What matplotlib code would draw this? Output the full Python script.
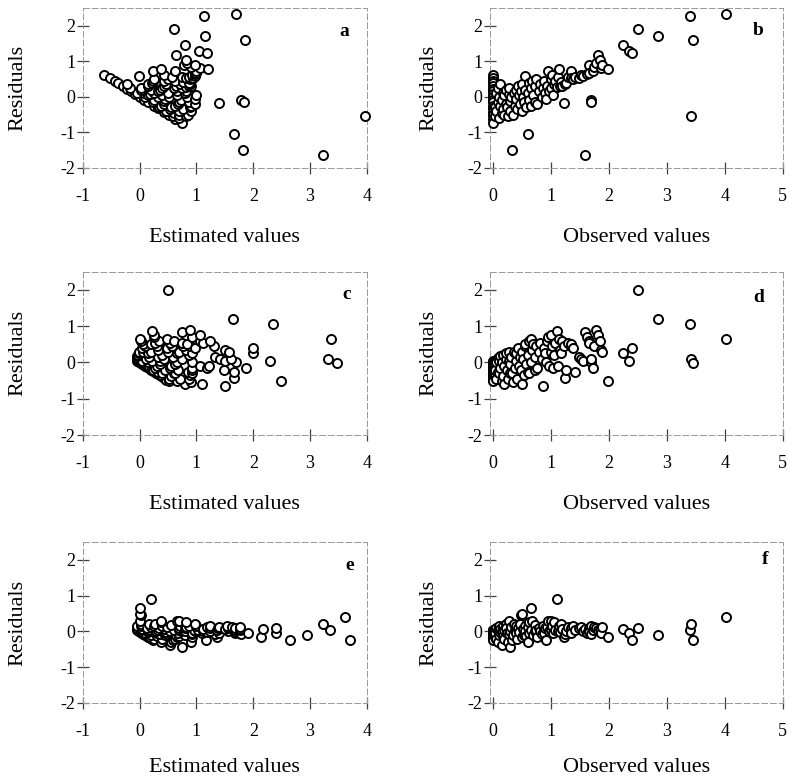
import matplotlib
matplotlib.use("Agg")
import matplotlib.pyplot as plt
import numpy as np

plt.rcParams['font.family'] = ['Liberation Serif', 'DejaVu Serif']
plt.rcParams['axes.unicode_minus'] = False

# observed values, shared by the three models
observed = [0, 0, 0, 0, 0, 0, 0, 0, 0, 0, 0, 0, 0, 0, 0, 0, 0,
            0.03, 0.04, 0.05, 0.06, 0.08, 0.08, 0.10, 0.10, 0.12, 0.13,
            0.15, 0.15, 0.17, 0.18, 0.20, 0.20, 0.22, 0.23, 0.25, 0.26,
            0.27, 0.28, 0.30, 0.30, 0.32, 0.33, 0.35, 0.36, 0.38, 0.40,
            0.40, 0.42, 0.44, 0.45, 0.47, 0.48, 0.50, 0.50, 0.52, 0.54,
            0.55, 0.56, 0.58, 0.60, 0.60, 0.62, 0.63, 0.65, 0.66, 0.68,
            0.70, 0.72, 0.73, 0.75, 0.77, 0.80, 0.82, 0.84, 0.86, 0.88,
            0.90, 0.92, 0.94, 0.95, 0.97, 1.00, 1.00, 1.02, 1.04, 1.06,
            1.08, 1.10, 1.12, 1.14, 1.16, 1.18, 1.20, 1.22, 1.24, 1.26,
            1.30, 1.34, 1.34, 1.38, 1.41, 1.48, 1.52, 1.55, 1.59, 1.62,
            1.66, 1.66, 1.69, 1.70, 1.72, 1.75, 1.78, 1.81, 1.84, 1.86,
            1.88, 1.98, 2.25, 2.35, 2.40, 2.50, 2.85, 3.40, 3.42, 3.45, 4.02]

# residuals (observed - estimated) of each model
resid_1 = [0.62, 0.52, 0.44, 0.38, 0.30, 0.22, 0.15, 0.08, 0.0, -0.08, -0.15, -0.25, -0.33, -0.42, -0.52, -0.62, -0.75,
           -0.55, -0.30, 0.10, -0.40, 0.25, -0.15, -0.60, 0.0, -0.25, 0.35,
           -0.45, -0.10, 0.10, -0.35, -0.50, 0.05, -0.20, 0.20, -0.30, -0.55,
           0.08, 0.25, -0.40, -0.12, 0.0, -1.49, -0.50, 0.10, -0.25, 0.20,
           -0.05, -0.35, 0.30, 0.05, -0.20, 0.15, -0.40, 0.35, 0.0, -0.15,
           0.57, 0.20, -0.30, -1.06, 0.10, 0.40, -0.10, 0.25, -0.25, 0.45,
           0.05, -0.15, 0.30, 0.50, -0.20, 0.15, 0.35, 0.0, 0.25, 0.45,
           0.10, -0.05, 0.30, 0.71, 0.15, 0.50, 0.25, 0.60, 0.05, 0.35,
           0.45, 0.28, 0.55, 0.77, 0.30, 0.42, 0.30, -0.17, 0.35, 0.40,
           0.55, 0.71, 0.52, 0.50, 0.55, 0.54, 0.60, 0.58, -1.63, 0.65,
           0.88, 0.66, -0.09, -0.14, 0.72, 0.85, 0.95, 1.17, 1.03, 0.80,
           0.90, 0.77, 1.45, 1.30, 1.22, 1.90, 1.70, 2.27, -0.55, 1.60, 2.32]

resid_2 = [0.05, 0.02, 0.0, -0.02, -0.05, -0.08, -0.10, -0.13, -0.16, -0.20, -0.24, -0.28, -0.32, -0.37, -0.42, -0.47, -0.52,
           -0.35, -0.20, 0.02, -0.45, 0.12, -0.25, -0.30, 0.05, -0.15, 0.18,
           -0.50, 0.0, 0.20, -0.38, -0.60, -0.10, 0.10, 0.25, -0.20, -0.45,
           0.05, 0.30, -0.30, -0.05, 0.15, -0.30, -0.55, 0.30, -0.15, 0.05,
           0.25, -0.45, 0.40, -0.10, 0.15, -0.20, -0.60, 0.30, 0.10, -0.35,
           0.45, 0.50, -0.05, -0.25, 0.20, 0.60, -0.30, 0.65, 0.0, 0.35,
           0.50, -0.20, 0.15, 0.45, -0.15, 0.30, 0.55, 0.10, -0.65, 0.40,
           0.25, 0.0, 0.60, 0.70, -0.10, 0.75, 0.30, 0.45, -0.15, 0.20,
           0.55, 0.88, -0.10, 0.65, 0.35, 0.25, 0.60, 0.45, -0.42, -0.22,
           0.55, 0.45, 0.50, 0.40, -0.25, 0.15, 0.10, 0.05, 0.85, 0.70,
           0.60, 0.55, 0.0, 0.10, -0.15, 0.45, 0.90, 0.75, 0.60, 0.35,
           0.30, -0.50, 0.25, 0.05, 0.40, 2.00, 1.20, 1.05, 0.10, -0.02, 0.65]

resid_3 = [0.05, 0.03, 0.02, 0.0, -0.01, -0.03, -0.05, -0.06, -0.08, -0.10, -0.11, -0.13, -0.15, -0.17, -0.19, -0.21, -0.23,
           -0.15, -0.05, 0.10, -0.20, 0.05, -0.30, -0.10, 0.15, -0.02, 0.08,
           -0.38, 0.0, 0.15, -0.12, -0.20, 0.05, 0.20, 0.10, -0.05, -0.30,
           -0.08, 0.28, -0.45, 0.02, 0.12, -0.25, -0.10, 0.20, 0.05, -0.05,
           0.15, -0.20, 0.10, -0.02, 0.20, 0.45, -0.15, 0.50, 0.08, -0.10,
           0.15, 0.02, -0.12, -0.30, 0.12, 0.25, -0.05, 0.65, 0.05, 0.30,
           -0.10, 0.0, 0.18, 0.05, -0.15, 0.10, 0.02, -0.08, 0.15, -0.05,
           0.10, -0.25, 0.12, 0.30, 0.0, 0.30, 0.05, 0.15, -0.05, 0.25,
           0.05, 0.90, 0.0, 0.15, -0.02, 0.20, 0.08, -0.15, -0.08, 0.02,
           0.12, 0.10, -0.05, 0.15, 0.05, 0.10, 0.12, 0.0, 0.08, -0.05,
           0.10, -0.02, 0.15, -0.08, 0.05, 0.12, 0.10, 0.05, 0.08, -0.05,
           0.12, -0.15, 0.08, -0.05, -0.25, 0.10, -0.10, 0.05, 0.20, -0.25, 0.40]

obs = np.array(observed)
models = [np.array(resid_1), np.array(resid_2), np.array(resid_3)]
letters = [['a', 'b'], ['c', 'd'], ['e', 'f']]

fig = plt.figure(figsize=(7.89, 7.81), dpi=100)

rows = [(0.785, 0.205), (0.443, 0.209), (0.100, 0.206)]
cols = [(0.105, 0.360), (0.621, 0.371)]
xlab_y = [-0.375, -0.368, -0.34]
letter_pos = [[(0.92, 0.85), (0.915, 0.86)],
              [(0.93, 0.86), (0.918, 0.84)],
              [(0.94, 0.857), (0.94, 0.89)]]

for r, res in enumerate(models):
    est = obs - res
    for c in range(2):
        ax = fig.add_axes([cols[c][0], rows[r][0], cols[c][1], rows[r][1]])
        xs = est if c == 0 else obs
        ax.plot(xs, res, 'o', mfc='white', mec='black', ms=6.5, mew=1.4,
                clip_on=False, zorder=3)
        if c == 0:
            ax.set_xlim(-1, 4)
            ax.set_xticks([-1, 0, 1, 2, 3, 4])
            ax.set_xlabel('Estimated values', fontsize=16)
        else:
            ax.set_xlim(-0.05, 5)
            ax.set_xticks([0, 1, 2, 3, 4, 5])
            ax.set_xlabel('Observed values', fontsize=16)
        ax.set_ylim(-2, 2.5)
        ax.set_yticks([-2, -1, 0, 1, 2])
        ax.set_ylabel('Residuals', fontsize=16)
        ax.xaxis.set_label_coords(0.5, xlab_y[r])
        ax.yaxis.set_label_coords(-0.197 if c == 0 else -0.175, 0.5)
        ax.tick_params(direction='inout', length=9, width=0.9,
                       labelsize=13, color='0.25')
        ax.tick_params(axis='x', pad=10)
        ax.tick_params(axis='y', pad=1)
        for s in ax.spines.values():
            s.set_color('0.6')
            s.set_linewidth(0.7)
            s.set_linestyle((0, (6, 3)))
        lx, ly = letter_pos[r][c]
        ax.text(lx, ly, letters[r][c], transform=ax.transAxes,
                fontsize=14, fontweight='bold', ha='center', va='center')

fig.savefig('out.png', dpi=100)
